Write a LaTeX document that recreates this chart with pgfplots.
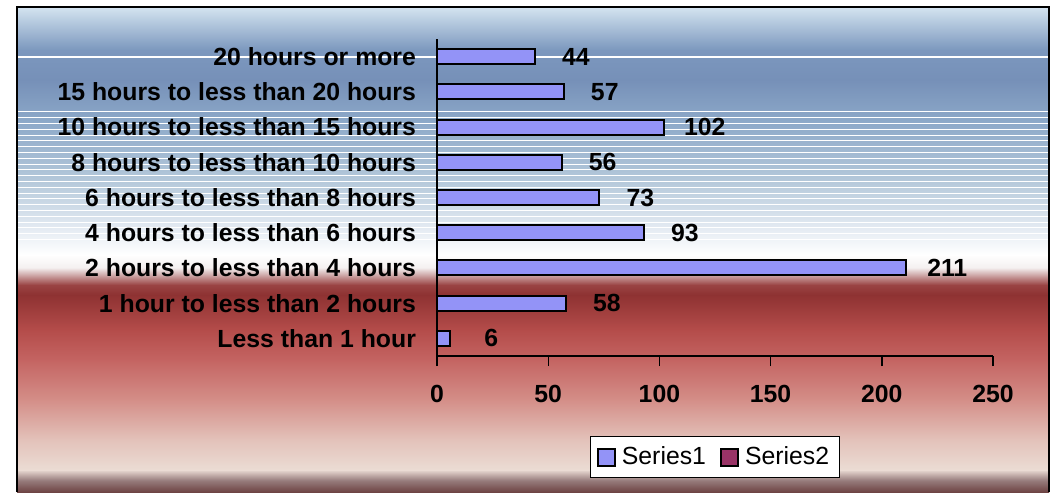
\documentclass[border=0pt]{standalone}
\usepackage{fontspec}
\setmainfont{Liberation Sans}
\usepackage{pgfplots}
\pgfplotsset{compat=1.18}

\definecolor{barblue}{HTML}{9393F7}
\definecolor{ser2}{HTML}{993366}
% background stops, bottom to top
\definecolor{c0}{HTML}{6E4444}
\definecolor{c1}{HTML}{9A8080}
\definecolor{c2}{HTML}{EBDCD4}
\definecolor{c3}{HTML}{E3C2BA}
\definecolor{c4}{HTML}{D48E88}
\definecolor{c5}{HTML}{C46462}
\definecolor{c6}{HTML}{B44C4A}
\definecolor{c7}{HTML}{8E3232}
\definecolor{c8}{HTML}{9A4444}
\definecolor{c9}{HTML}{F4F0F0}
\definecolor{c10}{HTML}{FFFFFF}
\definecolor{c11}{HTML}{E6ECF3}
\definecolor{c12}{HTML}{B4C8DA}
\definecolor{c13}{HTML}{8CA8C8}
\definecolor{c14}{HTML}{7690B8}
\definecolor{c15}{HTML}{7C98BE}
\definecolor{c16}{HTML}{D4E4F0}

\newcommand\seg[4]{\shade[bottom color=#1, top color=#2] (8.5pt,#3pt) rectangle (524.5pt,#4pt);}

\begin{document}
\begin{tikzpicture}
\path[use as bounding box] (0,0) rectangle (526.5pt,246pt);
\fill[white] (0,0) rectangle (526.5pt,246pt);
% gradient background
\seg{c0}{c1}{0}{6.2}
\seg{c1}{c2}{6}{11.2}
\seg{c2}{c3}{11}{26.2}
\seg{c3}{c4}{26}{46.2}
\seg{c4}{c5}{46}{66.2}
\seg{c5}{c6}{66}{81.2}
\seg{c6}{c7}{81}{98.7}
\seg{c7}{c8}{98.5}{103.7}
\seg{c8}{c9}{103.5}{112.2}
\seg{c9}{c10}{112}{118.7}
\seg{c10}{c11}{118.5}{131.2}
\seg{c11}{c12}{131}{156.2}
\seg{c12}{c13}{156}{186.2}
\seg{c13}{c14}{186}{206.2}
\seg{c14}{c15}{206}{221.2}
\seg{c15}{c16}{221}{242.5}
% white stripes
\draw[white, line width=0.7pt] (8.5pt,217.5pt) -- (524.5pt,217.5pt);
\foreach \i in {0,...,22}{
  \draw[white, line width=0.5pt] (8.5pt,190pt-2.9pt*\i) -- (524.5pt,190pt-2.9pt*\i);
}
% frame
\draw[black, line width=1pt] (8.5pt,0) -- (8.5pt,242.5pt) -- (524.5pt,242.5pt) -- (524.5pt,0);

\begin{axis}[
  at={(218.5pt,68pt)}, anchor=south west,
  scale only axis,
  width=278pt, height=158.5pt,
  xbar,
  bar width=7.5pt,
  xmin=0, xmax=250,
  ymin=-0.5, ymax=8.5,
  axis x line*=bottom,
  axis y line*=left,
  axis line style={black, line width=0.7pt},
  xtick={0,50,...,250},
  tick align=outside,
  major tick length=5pt,
  xtick style={black, line width=0.7pt},
  ytick=data,
  ytick style={draw=none},
  yticklabels={Less than 1 hour, 1 hour to less than 2 hours, 2 hours to less than 4 hours, 4 hours to less than 6 hours, 6 hours to less than 8 hours, 8 hours to less than 10 hours, 10 hours to less than 15 hours, 15 hours to less than 20 hours, 20 hours or more},
  tick label style={font=\fontsize{12.4}{14}\selectfont\bfseries},
  /pgf/number format/assume math mode=true,
  xticklabel style={anchor=center, yshift=-14pt},
  yticklabel style={anchor=east, xshift=-2pt},
  nodes near coords,
  nodes near coords style={anchor=center, xshift=20.5pt, font=\fontsize{12.4}{14}\selectfont\bfseries},
  legend image code/.code={\draw[#1, draw=black, line width=1pt] (0pt,-4.25pt) rectangle (8.5pt,4.25pt);},
  legend columns=2,
  legend style={at={(0.5,-0.32)}, anchor=center, draw=black, line width=0.5pt, fill=white,
    font=\fontsize{12.4}{14}\selectfont, inner ysep=3pt,
    /tikz/every odd column/.append style={column sep=1pt},
    /tikz/every even column/.append style={column sep=5pt}},
]
\addplot[fill=barblue, draw=black, line width=1pt] coordinates {
  (6,0) (58,1) (211,2) (93,3) (73,4) (56,5) (102,6) (57,7) (44,8)
};
\addlegendentry{Series1}
\addlegendimage{fill=ser2, draw=black}
\addlegendentry{Series2}
\end{axis}
\end{tikzpicture}
\end{document}
